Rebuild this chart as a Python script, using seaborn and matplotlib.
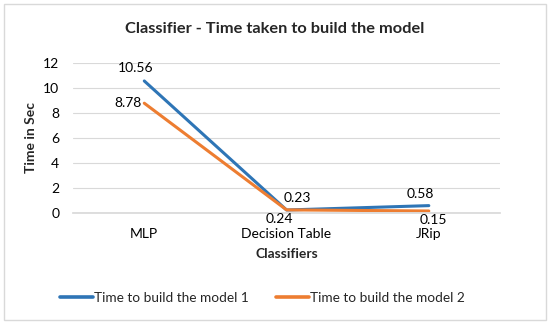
import pandas as pd
import matplotlib.pyplot as plt
import seaborn as sns
from matplotlib.patches import Rectangle

# data
classifiers = ["MLP", "Decision Table", "JRip"]
model1_times = [10.56, 0.23, 0.58]
model2_times = [8.78, 0.24, 0.15]
series_names = ["Time to build the model 1", "Time to build the model 2"]

df = pd.DataFrame({
    "Classifiers": classifiers * 2,
    "Time": model1_times + model2_times,
    "Series": [series_names[0]] * 3 + [series_names[1]] * 3,
})

sns.set_theme(style="white")
plt.rcParams["font.family"] = ["Lato", "DejaVu Sans"]

colors = {series_names[0]: "#2E75B6", series_names[1]: "#ED7D31"}

fig = plt.figure(figsize=(5.5, 3.28), dpi=100)
ax = fig.add_axes([0.133, 0.351, 0.776, 0.457])

# outer chart border like the Excel frame
fig.patches.append(Rectangle((0.008, 0.025), 0.984, 0.962, transform=fig.transFigure,
                             fill=False, edgecolor="#D9D9D9", linewidth=1))

sns.lineplot(ax=ax, data=df, x="Classifiers", y="Time", hue="Series",
             palette=colors, linewidth=2.2, sort=False)

ax.set_xlim(-0.5, 2.5)
ax.set_ylim(0, 12)
ax.set_yticks(range(0, 13, 2))
ax.yaxis.grid(True, color="#D9D9D9", linewidth=0.8)
ax.xaxis.grid(False)
for s in ["top", "right", "left"]:
    ax.spines[s].set_visible(False)
ax.spines["bottom"].set_color("#D9D9D9")
ax.tick_params(axis="both", length=0, labelsize=10, colors="#000000")
ax.tick_params(axis="x", pad=11)
ax.tick_params(axis="y", pad=10)

ax.set_xlabel("Classifiers", fontsize=10, fontweight="bold", labelpad=6)
ax.set_ylabel("Time in Sec", fontsize=10, fontweight="bold", labelpad=4)
fig.text(0.5, 0.912, "Classifier - Time taken to build the model", ha="center",
         va="center", fontsize=11.8, fontweight="bold")

# data labels
lbl = dict(fontsize=10, color="black")
ax.annotate(f"{model1_times[0]:.2f}", (0, model1_times[0]), xytext=(-6, 5),
            textcoords="offset points", ha="center", va="bottom", **lbl)
ax.annotate(f"{model2_times[0]:.2f}", (0, model2_times[0]), xytext=(-2, 0),
            textcoords="offset points", ha="right", va="center", **lbl)
ax.annotate(f"{model1_times[1]:.2f}", (1, model1_times[1]), xytext=(-2, 4),
            textcoords="offset points", ha="left", va="bottom", **lbl)
ax.annotate(f"{model2_times[1]:.2f}", (1, model2_times[1]), xytext=(-5, -2),
            textcoords="offset points", ha="center", va="top", **lbl)
ax.annotate(f"{model1_times[2]:.2f}", (2, model1_times[2]), xytext=(-6, 4),
            textcoords="offset points", ha="center", va="bottom", **lbl)
ax.annotate(f"{model2_times[2]:.2f}", (2, model2_times[2]), xytext=(3, -2),
            textcoords="offset points", ha="center", va="top", **lbl)

leg = ax.legend(loc="center", bbox_to_anchor=(0.477, 0.092), bbox_transform=fig.transFigure,
                ncol=2, frameon=False, fontsize=9.8, handlelength=2.4,
                handletextpad=0.1, columnspacing=2.0, title=None)
for line in leg.get_lines():
    line.set_linewidth(2.6)

fig.savefig("out.png", dpi=100)
